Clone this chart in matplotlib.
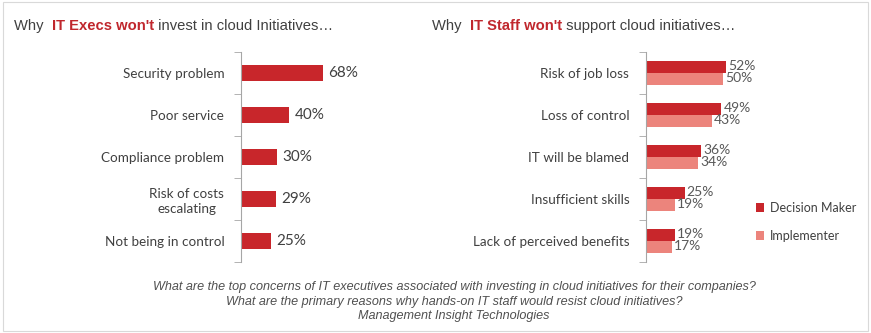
import numpy as np
import matplotlib.pyplot as plt
from matplotlib.patches import Rectangle

# data
exec_reasons = ["Security problem", "Poor service", "Compliance problem",
                "Risk of costs\nescalating", "Not being in control"]
exec_values = [68, 40, 30, 29, 25]

staff_reasons = ["Risk of job loss", "Loss of control", "IT will be blamed",
                 "Insufficient skills", "Lack of perceived benefits"]
decision_maker = [52, 49, 36, 25, 19]
implementer = [50, 43, 34, 19, 17]

DARK = "#C8262B"
LIGHT = "#EC847C"
GREY = "#404040"
W, H = 871, 333

fig = plt.figure(figsize=(W / 100, H / 100), dpi=100)


def px_axes(x0, y0, x1, y1):
    return fig.add_axes([x0 / W, 1 - y1 / H, (x1 - x0) / W, (y1 - y0) / H])


def style_axis(ax, labels):
    n = len(labels)
    ax.set_ylim(n - 0.5, -0.5)
    for s in ["top", "right", "bottom"]:
        ax.spines[s].set_visible(False)
    ax.spines["left"].set_color("#A6A6A6")
    ax.set_xticks([])
    ax.set_yticks(np.arange(n))
    ax.set_yticklabels(labels, fontsize=9.7, color=GREY, family="Lato",
                       linespacing=1.3, multialignment="center")
    ax.tick_params(axis="y", which="major", length=0, pad=12)
    ax.set_yticks(np.arange(n + 1) - 0.5, minor=True)
    ax.tick_params(axis="y", which="minor", length=5, color="#A6A6A6")


# left chart: IT execs
ax1 = px_axes(241, 52, 241 + 1.2 * 80, 262)
y = np.arange(len(exec_values))
ax1.barh(y, exec_values, height=0.4, color=DARK)
ax1.set_xlim(0, 80)
style_axis(ax1, exec_reasons)
for yi, v in zip(y, exec_values):
    ax1.text(v + 4.5, yi, f"{v}%", va="center", ha="left", fontsize=11,
             color=GREY, family="Lato")

# right chart: IT staff
ax2 = px_axes(646, 52, 646 + 1.54 * 60, 262)
y2 = np.arange(len(staff_reasons))
bh = 0.29
ax2.barh(y2 - bh / 2, decision_maker, height=bh, color=DARK, label="Decision Maker")
ax2.barh(y2 + bh / 2, implementer, height=bh, color=LIGHT, label="Implementer")
ax2.set_xlim(0, 60)
style_axis(ax2, staff_reasons)
for yi, d, m in zip(y2, decision_maker, implementer):
    ax2.text(d + 1.2, yi - 0.17, f"{d}%", va="center", ha="left", fontsize=10,
             color="#595959", family="Lato")
    ax2.text(m + 1.2, yi + 0.13, f"{m}%", va="center", ha="left", fontsize=10,
             color="#595959", family="Lato")

ax2.legend(loc="upper left", bbox_to_anchor=(756 / W, 1 - 202 / H),
           bbox_transform=fig.transFigure, frameon=False,
           handlelength=0.6, handleheight=0.8, handletextpad=0.5,
           labelspacing=1.25, prop={"family": "Lato", "size": 9},
           labelcolor=GREY, borderaxespad=0, borderpad=0)

# titles built from pieces
renderer = fig.canvas.get_renderer()


def title_pieces(x, y, pieces):
    for txt, col, wt in pieces:
        t = fig.text(x / W, 1 - y / H, txt, color=col, fontweight=wt,
                     fontsize=10.6, family="Liberation Sans", va="center",
                     ha="left")
        bb = t.get_window_extent(renderer)
        x += bb.width


title_pieces(14, 26, [("Why  ", "#404040", "normal"),
                      ("IT Execs won't", "#C0272D", "bold"),
                      (" invest in cloud Initiatives\u2026", "#404040", "normal")])
title_pieces(432, 26, [("Why  ", "#404040", "normal"),
                       ("IT Staff won't", "#C0272D", "bold"),
                       (" support cloud initiatives\u2026", "#404040", "normal")])

# footer
footer = ["What are the top concerns of IT executives associated with investing in cloud initiatives for their companies?",
          "What are the primary reasons why hands-on IT staff would resist cloud initiatives?",
          "Management Insight Technologies"]
for i, line in enumerate(footer):
    fig.text(454 / W, 1 - (287 + 14.5 * i) / H, line, ha="center", va="center",
             fontsize=9.1, style="italic", color="#505050", family="Liberation Sans")

# thin frame around picture
fig.patches.append(Rectangle((0.003, 0.006), 0.994, 0.988, transform=fig.transFigure,
                             fill=False, edgecolor="#D9D9D9", linewidth=0.8))

fig.savefig("out.png", dpi=100)
